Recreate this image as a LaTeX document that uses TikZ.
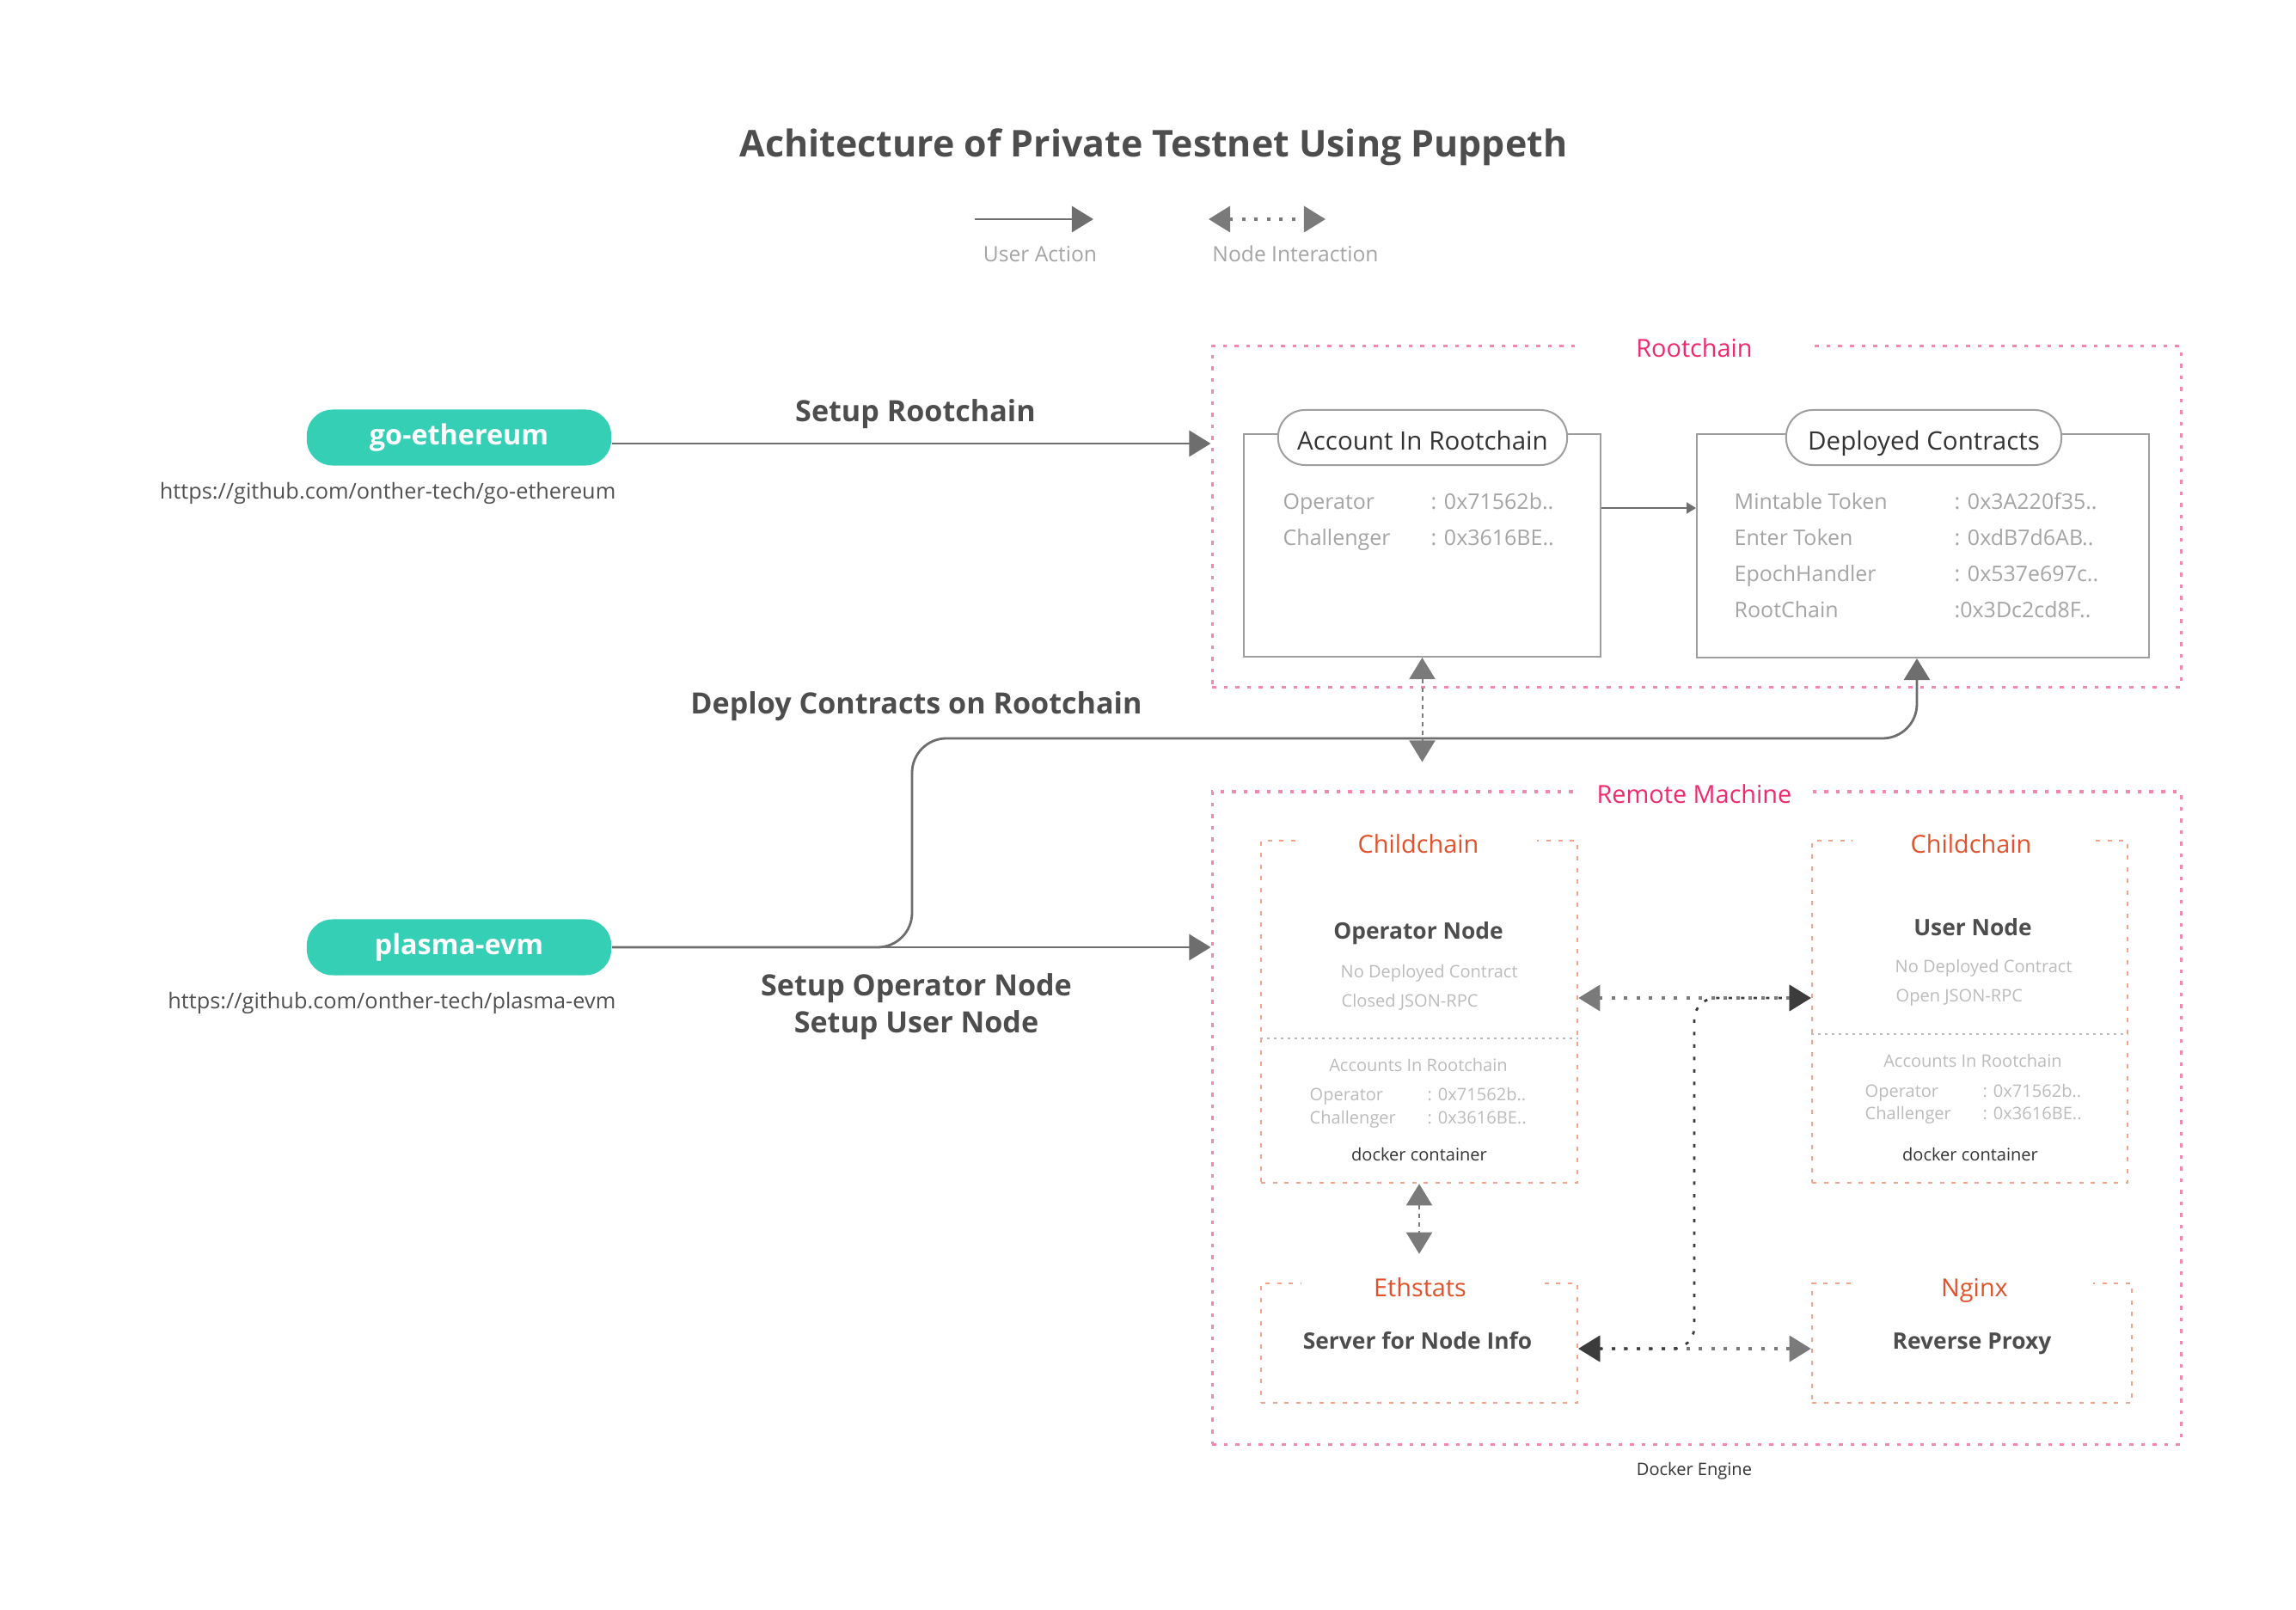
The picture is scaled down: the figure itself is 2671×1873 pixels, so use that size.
\documentclass[tikz,border=0pt]{standalone}
\usepackage{fontspec}
\setmainfont{Open Sans}
\usetikzlibrary{arrows.meta,fit}

\definecolor{pillteal}{HTML}{35CFB6}
\definecolor{titlegray}{HTML}{4D4D4D}
\definecolor{urlgray}{HTML}{505050}
\definecolor{arrowgray}{HTML}{6E6E6E}
\definecolor{headgray}{HTML}{7A7A7A}
\definecolor{headdark}{HTML}{3C3C3C}
\definecolor{boxgray}{HTML}{9E9E9E}
\definecolor{textdark}{HTML}{333333}
\definecolor{textlight}{HTML}{A4A4A4}
\definecolor{textlighter}{HTML}{BBBBBB}
\definecolor{grouppink}{HTML}{F587A8}
\definecolor{labelpink}{HTML}{EE2A6B}
\definecolor{grouporange}{HTML}{F2A48A}
\definecolor{labelorange}{HTML}{E2522A}

\begin{document}
\begin{tikzpicture}[x=0.01cm,y=-0.01cm,
	Head/.tip={Triangle[length=0.25cm,width=0.3cm]},
	DarkHead/.tip={Triangle[length=0.25cm,width=0.3cm,color=headdark]},
	SmallHead/.tip={Triangle[length=0.11cm,width=0.13cm]},
	title node/.style={anchor=base,text=titlegray,font=\fontsize{12.2}{14.6}\selectfont\bfseries},
	action label/.style={anchor=base,text=titlegray,font=\fontsize{9.7}{11.6}\selectfont\bfseries},
	legend label/.style={anchor=base,text=textlight,font=\fontsize{7}{8.4}\selectfont},
	repo node/.style={rectangle,rounded corners=0.3cm,fill=pillteal,text=white,minimum width=3.54cm,minimum height=0.65cm,text height=0.72em,text depth=0.22em,font=\fontsize{9.2}{11}\selectfont\bfseries},
	url label/.style={anchor=base east,inner xsep=0pt,text=urlgray,font=\fontsize{7.2}{8.6}\selectfont},
	outer group/.style={draw=grouppink,line width=0.03cm,dash pattern=on 0.045cm off 0.09cm,inner sep=0pt},
	outer label/.style={anchor=base,fill=white,text=labelpink,minimum width=2.75cm,inner ysep=2pt,font=\fontsize{8.2}{9.8}\selectfont},
	inner group/.style={draw=grouporange,line width=0.025cm,dash pattern=on 0.05cm off 0.085cm,inner sep=0pt},
	inner label/.style={anchor=base,fill=white,text=labelorange,minimum width=2.76cm,inner ysep=2pt,font=\fontsize{8.2}{9.8}\selectfont},
	chain box/.style={draw=boxgray,line width=0.02cm,inner sep=0pt},
	chain title/.style={draw=boxgray,line width=0.02cm,fill=white,rounded corners=0.31cm,minimum height=0.64cm,text height=0.8em,text depth=0pt,text=textdark,font=\fontsize{8.4}{10}\selectfont},
	field/.style={anchor=base west,inner xsep=0pt,text=textlight,font=\fontsize{7.1}{8.5}\selectfont},
	node title/.style={anchor=base,text=titlegray,font=\fontsize{7.5}{9}\selectfont\bfseries},
	small field/.style={anchor=base west,inner xsep=0pt,text=textlighter,font=\fontsize{5.7}{6.8}\selectfont},
	small title/.style={small field,anchor=base},
	small note/.style={anchor=base,text=textdark,font=\fontsize{5.7}{6.8}\selectfont},
	sep line/.style={draw=boxgray!70,line width=0.02cm,dash pattern=on 0.03cm off 0.05cm},
	user action/.style={draw=arrowgray,line width=0.028cm,-Head},
	small action/.style={draw=arrowgray,line width=0.02cm,-SmallHead},
	node link/.style={draw=headgray,line width=0.035cm,dash pattern=on 0.04cm off 0.105cm,Head-Head},
	dark link/.style={draw=headdark,line width=0.028cm,dash pattern=on 0.04cm off 0.105cm,DarkHead-DarkHead,rounded corners=0.25cm},
	stack link/.style={draw=headgray,line width=0.02cm,dash pattern=on 0.05cm off 0.05cm,Head-Head,shorten >=0.33cm}
]
	\useasboundingbox (0,0) rectangle (2671,1873);

	% title and legend
	\node[title node] (title) at (1342,183) {Achitecture of Private Testnet Using Puppeth};
	\coordinate (action start) at (1134,255);
	\coordinate (action end) at (1272,255);
	\coordinate (link start) at (1406,255);
	\coordinate (link end) at (1542,255);
	\draw[user action] (action start) -- (action end);
	\draw[node link] (link start) -- (link end);
	\node[legend label] (action legend) at (1210,305) {User Action};
	\node[legend label] (link legend) at (1507,305) {Node Interaction};

	% repositories
	\node[repo node] (geth) at (534,509) {go-ethereum};
	\node[url label] (geth url) at (717,581) {https://github.com/onther-tech/go-ethereum};
	\node[repo node] (plasma) at (534,1102) {plasma-evm};
	\node[url label] (plasma url) at (717,1173) {https://github.com/onther-tech/plasma-evm};

	% rootchain
	\node[outer group,fit={(1410,403) (2537,800)}] (rootchain) {};
	\node[outer label] (rootchain label) at (1971,416) {Rootchain};

	\node[chain box,fit={(1447,505) (1862,764)}] (account) {};
	\node[chain title,minimum width=3.36cm] (account title) at (1655,509) {Account In Rootchain};
	\node[field] (operator key) at (1492,593) {Operator};
	\node[field] (operator value) at (1664,593) {: 0x71562b..};
	\node[field] (challenger key) at (1492,635) {Challenger};
	\node[field] (challenger value) at (1664,635) {: 0x3616BE..};

	\node[chain box,fit={(1974,505) (2500,765)}] (deployed) {};
	\node[chain title,minimum width=3.2cm] (deployed title) at (2238,509) {Deployed Contracts};
	\foreach \cname/\caddr [count=\i] in {Mintable Token/{: 0x3A220f35..},Enter Token/{: 0xdB7d6AB..},EpochHandler/{: 0x537e697c..},RootChain/{:0x3Dc2cd8F..}} {
		\node[field] (contract \i) at (2017,551+42*\i) {\cname};
		\node[field] (address \i) at (2273,551+42*\i) {\caddr};
	}

	\coordinate (contract link) at (0,591);
	\draw[small action] (account.east |- contract link) -- (deployed.west |- contract link);

	% remote machine
	\node[outer group,fit={(1410,921) (2537,1680)}] (remote) {};
	\node[outer label] (remote label) at (1971,935) {Remote Machine};
	\node[small note] (docker engine) at (1971,1716) {Docker Engine};

	% operator childchain
	\node[inner group,fit={(1467,978) (1835,1376)}] (opchild) {};
	\node[inner label] (opchild label) at (1650,992) {Childchain};
	\draw[sep line] (opchild.west |- 0,1208) -- (opchild.east |- 0,1208);
	\node[node title] (operator node) at (1650,1092) {Operator Node};
	\node[small field] (operator deployed) at (1559,1137) {No Deployed Contract};
	\node[small field] (operator rpc) at (1560,1171) {Closed JSON-RPC};
	\node[small title] (operator accounts) at (1650,1246) {Accounts In Rootchain};
	\node[small field] (operator key 2) at (1523,1280) {Operator};
	\node[small field] (operator value 2) at (1660,1280) {: 0x71562b..};
	\node[small field] (challenger key 2) at (1523,1307) {Challenger};
	\node[small field] (challenger value 2) at (1660,1307) {: 0x3616BE..};
	\node[small note] (operator docker) at (1651,1350) {docker container};

	% user childchain
	\node[inner group,fit={(2108,978) (2475,1376)}] (userchild) {};
	\node[inner label] (userchild label) at (2293,992) {Childchain};
	\draw[sep line] (userchild.west |- 0,1203) -- (userchild.east |- 0,1203);
	\node[node title] (user node) at (2295,1088) {User Node};
	\node[small field] (user deployed) at (2204,1132) {No Deployed Contract};
	\node[small field] (user rpc) at (2205,1165) {Open JSON-RPC};
	\node[small title] (user accounts) at (2295,1241) {Accounts In Rootchain};
	\node[small field] (operator key 3) at (2169,1276) {Operator};
	\node[small field] (operator value 3) at (2306,1276) {: 0x71562b..};
	\node[small field] (challenger key 3) at (2169,1302) {Challenger};
	\node[small field] (challenger value 3) at (2306,1302) {: 0x3616BE..};
	\node[small note] (user docker) at (2292,1350) {docker container};

	% ethstats and nginx
	\node[inner group,fit={(1467,1493) (1835,1632)}] (ethstats) {};
	\node[inner label] (ethstats label) at (1652,1508) {Ethstats};
	\node[node title] (ethstats text) at (1649,1569) {Server for Node Info};
	\node[inner group,fit={(2108,1493) (2480,1632)}] (nginx) {};
	\node[inner label] (nginx label) at (2297,1508) {Nginx};
	\node[node title] (nginx text) at (2294,1569) {Reverse Proxy};

	% user actions
	\coordinate (rootchain link) at (0,516);
	\draw[user action] (geth.east |- rootchain link) -- (rootchain.west |- rootchain link);
	\node[action label] (setup rootchain) at (1065,491) {Setup Rootchain};
	\draw[user action] (plasma.east) -- (plasma.east -| remote.west);
	\node[action label] (setup operator) at (1066,1158) {Setup Operator Node};
	\node[action label] (setup user) at (1066,1201) {Setup User Node};
	\coordinate (deploy bend) at (1061,859);
	\draw[user action,rounded corners=0.4cm] (plasma.east) -| (deploy bend) -| ([xshift=-0.07cm]deployed.south);
	\node[action label] (deploy label) at (1066,831) {Deploy Contracts on Rootchain};

	% node interactions
	\draw[stack link] (account.south) -- (account.south |- remote.north);
	\draw[stack link] (opchild.south) -- (opchild.south |- ethstats.north);
	\coordinate (upper link) at (0,1161);
	\coordinate (lower link) at (0,1569);
	\coordinate (link bend) at (1971,1161);
	\draw[node link] (opchild.east |- upper link) -- (userchild.west |- upper link);
	\draw[node link] (ethstats.east |- lower link) -- (nginx.west |- lower link);
	\draw[dark link] (ethstats.east |- lower link) -| (link bend) -- (userchild.west |- upper link);
\end{tikzpicture}
\end{document}
